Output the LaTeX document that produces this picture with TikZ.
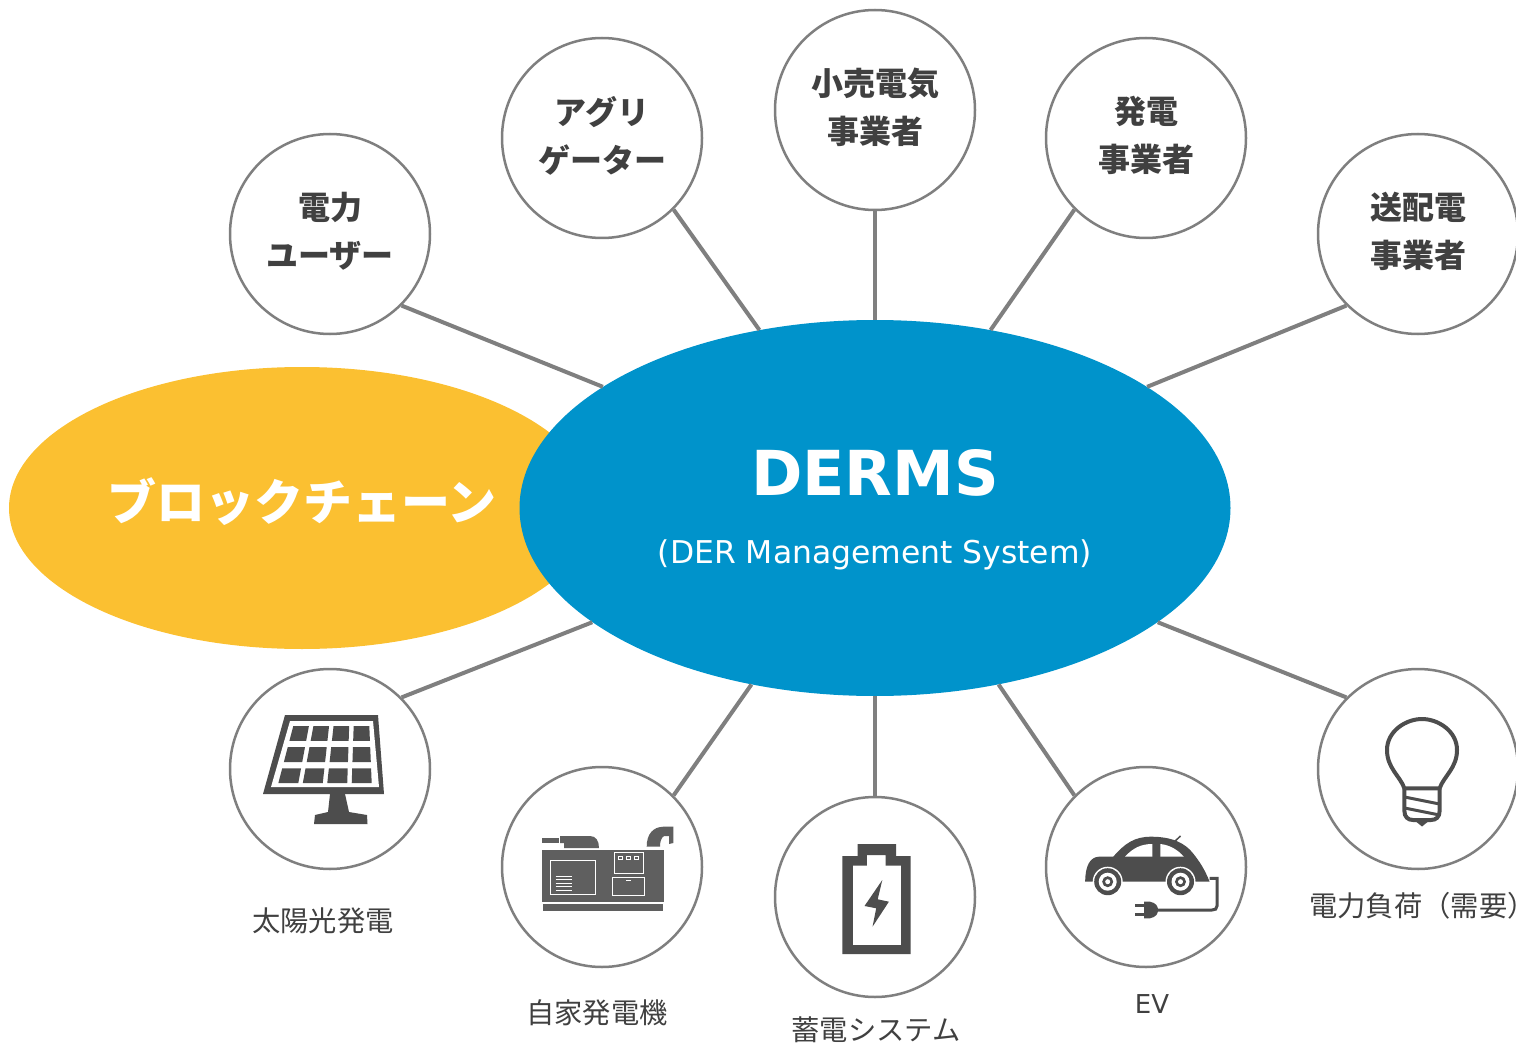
\documentclass[tikz,border=0pt]{standalone}
\usepackage{fontspec}
\setmainfont{DejaVu Sans}
\newfontfamily\cjk{Noto Sans CJK JP}
\usetikzlibrary{shapes.geometric}
\definecolor{dunkel}{HTML}{404040}
\definecolor{linie}{HTML}{7F7F7F}
\definecolor{icon}{HTML}{4D4D4D}
\definecolor{blau}{HTML}{0093CB}
\definecolor{gelb}{HTML}{FBC031}
\tikzset{
    kreis/.style={
        circle,
        draw=linie,          % graue Kontur
        fill=white,
        minimum size=200pt,
        inner sep=0pt,
        line width=2.5pt,
        text=dunkel,
        align=center,
        text depth=8pt,
        font=\cjk\bfseries\fontsize{32}{48}\selectfont
    },
    blase/.style={
        ellipse,
        inner sep=0pt
    },
    linke/.style={
        draw=linie,
        line width=4pt
    },
    beschriftung/.style={
        text=dunkel,
        inner sep=0pt,
        font=\cjk\fontsize{28.3}{30}\selectfont
    }
}

\begin{document}
\begin{tikzpicture}[x=1pt,y=-1pt]
    \useasboundingbox (0,0) rectangle (1516,1043);

    % Die zwei grossen Ellipsen
    \node[blase, fill=gelb, minimum width=586pt, minimum height=282pt] (kette) at (302,508) {};
    \node[blase, fill=blau, minimum width=711pt, minimum height=376pt] (derms) at (875,508) {};
    \node[text=white, inner sep=0pt, font=\cjk\bfseries\fontsize{49}{49}\selectfont] (kettetext) at (302,502) {ブロックチェーン};
    \node[text=white, inner sep=0pt, font=\bfseries\fontsize{62}{66}\selectfont] (dermsname) at (875,473) {DERMS};
    \node[text=white, inner sep=0pt, font=\fontsize{31.4}{36}\selectfont] (dermssub) at (875,555) {(DER Management System)};

    % Obere Reihe
    \node[kreis] (nutzer) at (330,234) {電力\\ユーザー};
    \node[kreis] (aggregator) at (602,138) {アグリ\\ゲーター};
    \node[kreis] (handel) at (875,110) {小売電気\\事業者};
    \node[kreis] (erzeuger) at (1146,138) {発電\\事業者};
    \node[kreis] (netz) at (1418,234) {送配電\\事業者};

    % Untere Reihe
    \node[kreis] (solar) at (330,769) {};
    \node[kreis] (generator) at (602,867) {};
    \node[kreis] (batterie) at (875,897) {};
    \node[kreis] (auto) at (1146,867) {};
    \node[kreis] (last) at (1418,769) {};

    % Verbindungen zur Mitte
    \draw[linke] (nutzer.-45) -- (derms.156);
    \draw[linke] (aggregator.-45) -- (derms.123.9);
    \draw[linke] (handel.south) -- (derms.north);
    \draw[linke] (erzeuger.-135) -- (derms.57.6);
    \draw[linke] (netz.-135) -- (derms.24.5);
    \draw[linke] (solar.45) -- (derms.202);
    \draw[linke] (generator.45) -- (derms.235.8);
    \draw[linke] (batterie.north) -- (derms.south);
    \draw[linke] (auto.135) -- (derms.-55);
    \draw[linke] (last.135) -- (derms.-22.2);

    % Beschriftungen
    \node[beschriftung] (solartext) at (323,921) {太陽光発電};
    \node[beschriftung] (generatortext) at (597,1013) {自家発電機};
    \node[beschriftung] (batterietext) at (876,1030) {蓄電システム};
    \node[beschriftung, font=\fontsize{26}{30}\selectfont] (autotext) at (1152,1004) {EV};
    \node[beschriftung, anchor=west] (lasttext) at (1309,906) {電力負荷（需要）};

    % Solarmodul
    \fill[icon] (285,715) -- (378,715) -- (384,794) -- (263,794) -- cycle;
    \fill[white] (290,721) -- (373,721) -- (379,787) -- (271,787) -- cycle;
    \foreach \reihe in {0,1,2}
    \foreach \spalte in {0,1,2,3}{
        \pgfmathsetmacro{\ya}{726+21.2*\reihe}
        \pgfmathsetmacro{\yb}{\ya+14.8}
        \pgfmathsetmacro{\la}{293.3-(\ya-726)*0.262}
        \pgfmathsetmacro{\lb}{293.3-(\yb-726)*0.262}
        \pgfmathsetmacro{\ra}{369.3+(\ya-726)*0.042}
        \pgfmathsetmacro{\rb}{369.3+(\yb-726)*0.042}
        \pgfmathsetmacro{\pa}{(\ra-\la+4.5)/4}
        \pgfmathsetmacro{\pb}{(\rb-\lb+4.5)/4}
        \fill[icon] (\la+\spalte*\pa,\ya) -- (\la+\spalte*\pa+\pa-4.5,\ya)
            -- (\lb+\spalte*\pb+\pb-4.5,\yb) -- (\lb+\spalte*\pb,\yb) -- cycle;
    }
    \fill[icon] (330,794) -- (345,794) -- (349,812) -- (367,815) -- (367.5,824) -- (314,824) -- (315,815) -- (328,812) -- cycle;

    % Notstromaggregat
    \fill[icon!90!white] (542.3,850) rectangle (664,902.3);
    \fill[icon!90!white] (543.3,904.3) rectangle (662.7,911.3);
    \fill[icon!90!white] (542.3,837.7) rectangle (559,842.5);
    \fill[icon!90!white] (560,836) -- (590,836) .. controls (596,836) and (599,841) .. (599,848) -- (564,848) -- (564,843) -- (560,843) -- cycle;
    \fill[icon!90!white] (646.7,846.7) .. controls (646.7,834) and (653,827) .. (663.3,826.7) -- (673.3,826.7) -- (673.3,843) -- (669,844) -- (669,836) -- (664,836) .. controls (661,838) and (660,842) .. (660,846.7) -- cycle;
    \draw[white, line width=0.8pt] (550,860) rectangle (595,894.3);
    \draw[white, line width=0.8pt] (614,852) rectangle (643.3,873.3);
    \draw[white, line width=0.8pt] (612.7,877.3) rectangle (644.3,895.7);
    \draw[white, line width=0.8pt] (626,880.5) -- (631,880.5);
    \foreach \knopf in {620,628,636}
        \draw[white, line width=0.7pt] (\knopf-2,856.5) rectangle (\knopf+2,859.5);
    \foreach \schlitz in {876,879.5,883,886.5,890}
        \draw[white, line width=0.8pt] (555.7,\schlitz) -- (571.7,\schlitz);

    % Batterie
    \fill[icon, even odd rule] (842.4,856) -- (857.5,856) -- (857.5,844) -- (896,844) -- (896,856) -- (910.5,856) -- (910.5,954) -- (842.4,954) -- cycle
        (852.8,865.7) -- (866.9,865.7) -- (866.9,855) -- (885.6,855) -- (885.6,865.7) -- (901,865.7) -- (901,945) -- (852.8,945) -- cycle;
    \fill[icon] (882.3,880) -- (864.5,906) -- (876.2,908.3) -- (872.5,926.7) -- (888.9,901.7) -- (877.7,899.3) -- cycle;

    % Elektroauto
    \fill[icon] (1085.2,881.7) .. controls (1085.2,866) and (1090,857) .. (1099,856.7) -- (1113.3,856.7)
        .. controls (1125,843) and (1135,836.7) .. (1151,836.7) .. controls (1172,836.7) and (1185,843) .. (1193,853.3)
        .. controls (1200,862) and (1205,870) .. (1209.6,881.7) -- cycle;
    \fill[white] (1125,856.7) -- (1152.3,856.7) -- (1152.3,844) .. controls (1141,844) and (1133,848) .. (1125,856.7) -- cycle;
    \fill[white] (1160.3,856.7) -- (1183.8,856.7) .. controls (1178,850) and (1170,845) .. (1160.3,844) -- cycle;
    \draw[icon, line width=1.5pt] (1174.4,841.7) -- (1180.5,836);
    \foreach \rad in {1107.7,1180.5}{
        \fill[white] (\rad,881.7) circle[radius=15];
        \fill[icon] (\rad,881.7) circle[radius=13.5];
        \fill[white] (\rad,881.7) circle[radius=9];
        \fill[icon] (\rad,881.7) circle[radius=5.5];
        \fill[white] (\rad,881.7) circle[radius=2.5];
    }
    \draw[icon, line width=3pt] (1209.6,878.3) -- (1217,878.3) -- (1217,906) .. controls (1217,909) and (1215,910) .. (1212,910) -- (1155.6,910);
    \fill[icon] (1144,901.7) -- (1150,901.7) .. controls (1156,903) and (1158,906) .. (1158,910) .. controls (1158,914) and (1156,917) .. (1150,918.3) -- (1144,918.3) -- cycle;
    \fill[icon] (1135.4,904) rectangle (1144,906.7);
    \fill[icon] (1135.4,913.3) rectangle (1144,916);

    % Gluehbirne
    \draw[icon, line width=4pt] (1404.4,788.3) .. controls (1400,776) and (1387,768) .. (1387,750)
        .. controls (1387,731) and (1406,719) .. (1422,719) .. controls (1438,719) and (1457,731) .. (1457,750)
        .. controls (1457,768) and (1444,776) .. (1439.6,788.3) -- cycle;
    \draw[icon, line width=4pt] (1404.4,788.3) -- (1404.4,811) .. controls (1404.4,817) and (1408,820) .. (1413,820) -- (1431,820) .. controls (1436,820) and (1439.6,817) .. (1439.6,811) -- (1439.6,788.3);
    \draw[icon, line width=3pt] (1404.4,797) -- (1439.6,804);
    \draw[icon, line width=3pt] (1404.4,808) -- (1439.6,815);
    \fill[icon] (1414,820) -- (1430,820) -- (1422,826.5) -- cycle;

\end{tikzpicture}
\end{document}
